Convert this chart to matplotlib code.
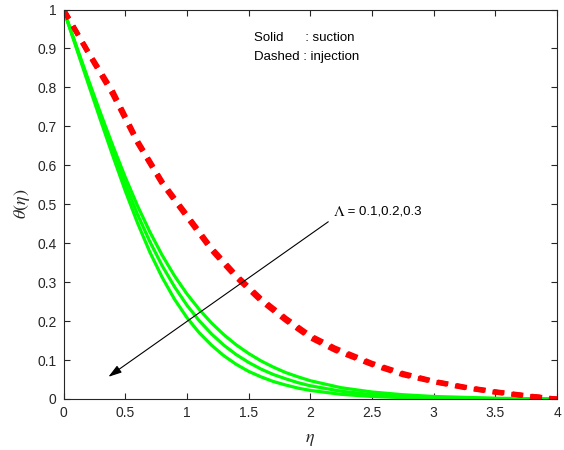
import matplotlib
matplotlib.use('Agg')
import matplotlib.pyplot as plt
import numpy as np

plt.rcParams['font.family'] = ['Liberation Sans', 'DejaVu Sans']
plt.rcParams['mathtext.fontset'] = 'stix'

# suction (solid) curves, Lambda = 0.1, 0.2, 0.3
eta_s = [0, 0.1, 0.2, 0.3, 0.4, 0.5, 0.6, 0.7, 0.8, 0.9, 1.0, 1.1, 1.2, 1.3, 1.4,
         1.5, 1.6, 1.7, 1.8, 1.9, 2.0, 2.25, 2.5, 2.75, 3.0, 3.5, 4.0]
theta_s1 = [1.0, 0.910, 0.821, 0.734, 0.650, 0.570, 0.496, 0.429, 0.369, 0.316, 0.270,
            0.230, 0.195, 0.165, 0.139, 0.117, 0.098, 0.082, 0.068, 0.057, 0.047,
            0.029, 0.018, 0.011, 0.0065, 0.002, 0.0]
theta_s2 = [1.0, 0.908, 0.816, 0.725, 0.637, 0.553, 0.474, 0.404, 0.342, 0.288, 0.241,
            0.201, 0.167, 0.138, 0.114, 0.094, 0.077, 0.063, 0.052, 0.042, 0.034,
            0.020, 0.011, 0.0065, 0.0037, 0.001, 0.0]
theta_s3 = [1.0, 0.905, 0.810, 0.716, 0.624, 0.535, 0.452, 0.377, 0.312, 0.256, 0.209,
            0.170, 0.138, 0.111, 0.089, 0.071, 0.057, 0.045, 0.036, 0.028, 0.022,
            0.012, 0.0065, 0.0035, 0.002, 0.0006, 0.0]

# injection (dashed) curves
eta_i = [0, 0.2, 0.4, 0.6, 0.8, 1.0, 1.2, 1.4, 1.6, 1.8, 2.0, 2.2, 2.5, 2.75, 3.0, 3.25, 3.5, 3.75, 4.0]
theta_i1 = [1.0, 0.892, 0.79, 0.663, 0.558, 0.473, 0.388, 0.318, 0.258, 0.208, 0.163, 0.131, 0.092, 0.066, 0.046, 0.031, 0.019, 0.009, 0.0]
theta_i2 = [1.0, 0.89, 0.785, 0.66, 0.555, 0.47, 0.385, 0.315, 0.255, 0.205, 0.16, 0.128, 0.09, 0.064, 0.045, 0.030, 0.018, 0.008, 0.0]
theta_i3 = [1.0, 0.888, 0.781, 0.657, 0.552, 0.467, 0.382, 0.312, 0.252, 0.202, 0.157, 0.125, 0.088, 0.062, 0.044, 0.029, 0.017, 0.008, 0.0]

fig = plt.figure(figsize=(5.64, 4.5), dpi=100)
ax = fig.add_axes([63.5/564, 1-399/450, (557-63.5)/564, (399-9.5)/450])

for th in [theta_s1, theta_s2, theta_s3]:
    ax.plot(eta_s, th, color=(0, 1, 0), lw=2.3, solid_joinstyle='round')
for th in [theta_i1, theta_i2, theta_i3]:
    ax.plot(eta_i, th, color=(1, 0, 0), lw=3.5, linestyle=(0, (2.2, 1.7)))

ax.set_xlim(0, 4)
ax.set_ylim(0, 1)
ax.set_xticks(np.arange(0, 4.01, 0.5))
ax.set_xticklabels(['0', '0.5', '1', '1.5', '2', '2.5', '3', '3.5', '4'])
ax.set_yticks(np.arange(0, 1.01, 0.1))
ax.set_yticklabels(['0', '0.1', '0.2', '0.3', '0.4', '0.5', '0.6', '0.7', '0.8', '0.9', '1'])

dark = '#262626'
ax.tick_params(direction='in', top=True, right=True, length=4, width=0.8,
               labelsize=10, colors=dark, pad=5)
for s in ax.spines.values():
    s.set_color(dark)
    s.set_linewidth(0.8)

ax.set_xlabel(r'$\eta$', fontsize=13, color=dark, labelpad=8)
ax.set_ylabel(r'$\theta(\eta)$', fontsize=13, color=dark, labelpad=4)

ax.text(1.547, 0.928, 'Solid      : suction', fontsize=9.5, va='center', ha='left')
ax.text(1.547, 0.877, 'Dashed : injection', fontsize=9.5, va='center', ha='left')

ax.annotate('', xy=(0.364, 0.057), xytext=(2.146, 0.455),
            arrowprops=dict(arrowstyle='-|>,head_length=0.8,head_width=0.25',
                            color='black', lw=0.8, shrinkA=0, shrinkB=0))
ax.text(2.186, 0.481, r'$\Lambda$', fontsize=11, va='center', ha='left',
        math_fontfamily='stix')
ax.text(2.186 + 0.09, 0.481, ' = 0.1,0.2,0.3', fontsize=9.5, va='center', ha='left')

fig.savefig('out.png', dpi=100)
